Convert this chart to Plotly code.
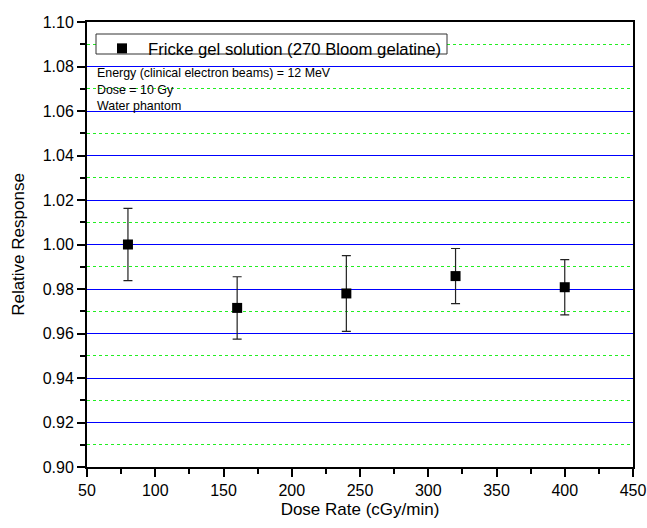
import plotly.graph_objects as go

dose_rate = [80, 160, 240, 320, 400]
relative_response = [1.000, 0.9715, 0.978, 0.9858, 0.9808]
response_error = [0.0162, 0.014, 0.017, 0.0124, 0.0124]
series_name = "Fricke gel solution (270 Bloom gelatine)"
notes = [
    "Energy (clinical electron beams) = 12 MeV",
    "Dose = 10 Gy",
    "Water phantom",
]
FONT = "Arial, Liberation Sans, sans-serif"

L, R, T, B = 87, 14, 22, 61
W, H = 647, 528
PW, PH = W - L - R, H - T - B


def px_x(p):
    return (p - L) / PW


def px_y(p):
    return 1 - (p - T) / PH


fig = go.Figure()
fig.add_trace(go.Scatter(
    x=dose_rate, y=relative_response, mode="markers", name=series_name,
    marker=dict(symbol="square", size=10, color="black"),
    error_y=dict(type="data", array=response_error, visible=True,
                 color="#222222", thickness=1.2, width=4.5),
))

# legend frame
fig.add_shape(type="rect", xref="paper", yref="paper",
              x0=px_x(96), x1=px_x(447), y0=px_y(54), y1=px_y(34),
              fillcolor="white", line=dict(color="#333333", width=1), layer="above")

note_y = [72.7, 90, 105.5]
for txt, yy in zip(notes, note_y):
    fig.add_annotation(x=px_x(95), y=px_y(yy), xref="paper", yref="paper",
                       xanchor="left", yanchor="middle", text=txt,
                       showarrow=False, font=dict(family=FONT, size=12.4, color="black"))

fig.update_layout(
    width=W, height=H,
    margin=dict(l=L, r=R, t=T, b=B),
    paper_bgcolor="white", plot_bgcolor="white",
    font=dict(family=FONT, size=16, color="black"),
    showlegend=True,
    legend=dict(x=px_x(96), y=px_y(31), xanchor="left", yanchor="top",
                bgcolor="rgba(0,0,0,0)", borderwidth=0,
                font=dict(family=FONT, size=16.7, color="black"),
                itemwidth=42),
    xaxis=dict(
        range=[50, 450], dtick=50, tick0=50, automargin=False,
        showgrid=False, zeroline=False,
        showline=True, linecolor="black", linewidth=2, mirror=True,
        ticks="outside", ticklen=8, tickwidth=1.5, tickcolor="black",
        minor=dict(dtick=25, ticks="outside", ticklen=5, tickwidth=1.5, tickcolor="black", showgrid=False),
        title=dict(text="Dose Rate (cGy/min)", font=dict(size=17), standoff=5),
        tickfont=dict(size=16),
    ),
    yaxis=dict(
        range=[0.9, 1.1], dtick=0.02, tick0=0.9, tickformat=".2f", automargin=False,
        showgrid=True, gridcolor="#0000ff", gridwidth=1,
        zeroline=False,
        showline=True, linecolor="black", linewidth=2, mirror=True,
        ticks="outside", ticklen=8, tickwidth=1.5, tickcolor="black",
        minor=dict(dtick=0.01, tick0=0.9, ticks="outside", ticklen=5, tickwidth=1.5, tickcolor="black",
                   showgrid=True, gridcolor="#22ee22", gridwidth=1, griddash="dot"),
        title=dict(text="Relative Response", font=dict(size=17), standoff=14),
        tickfont=dict(size=16),
    ),
)

fig.write_html("out.html", post_script="document.body.style.margin='0';",
               config={"displayModeBar": False})
